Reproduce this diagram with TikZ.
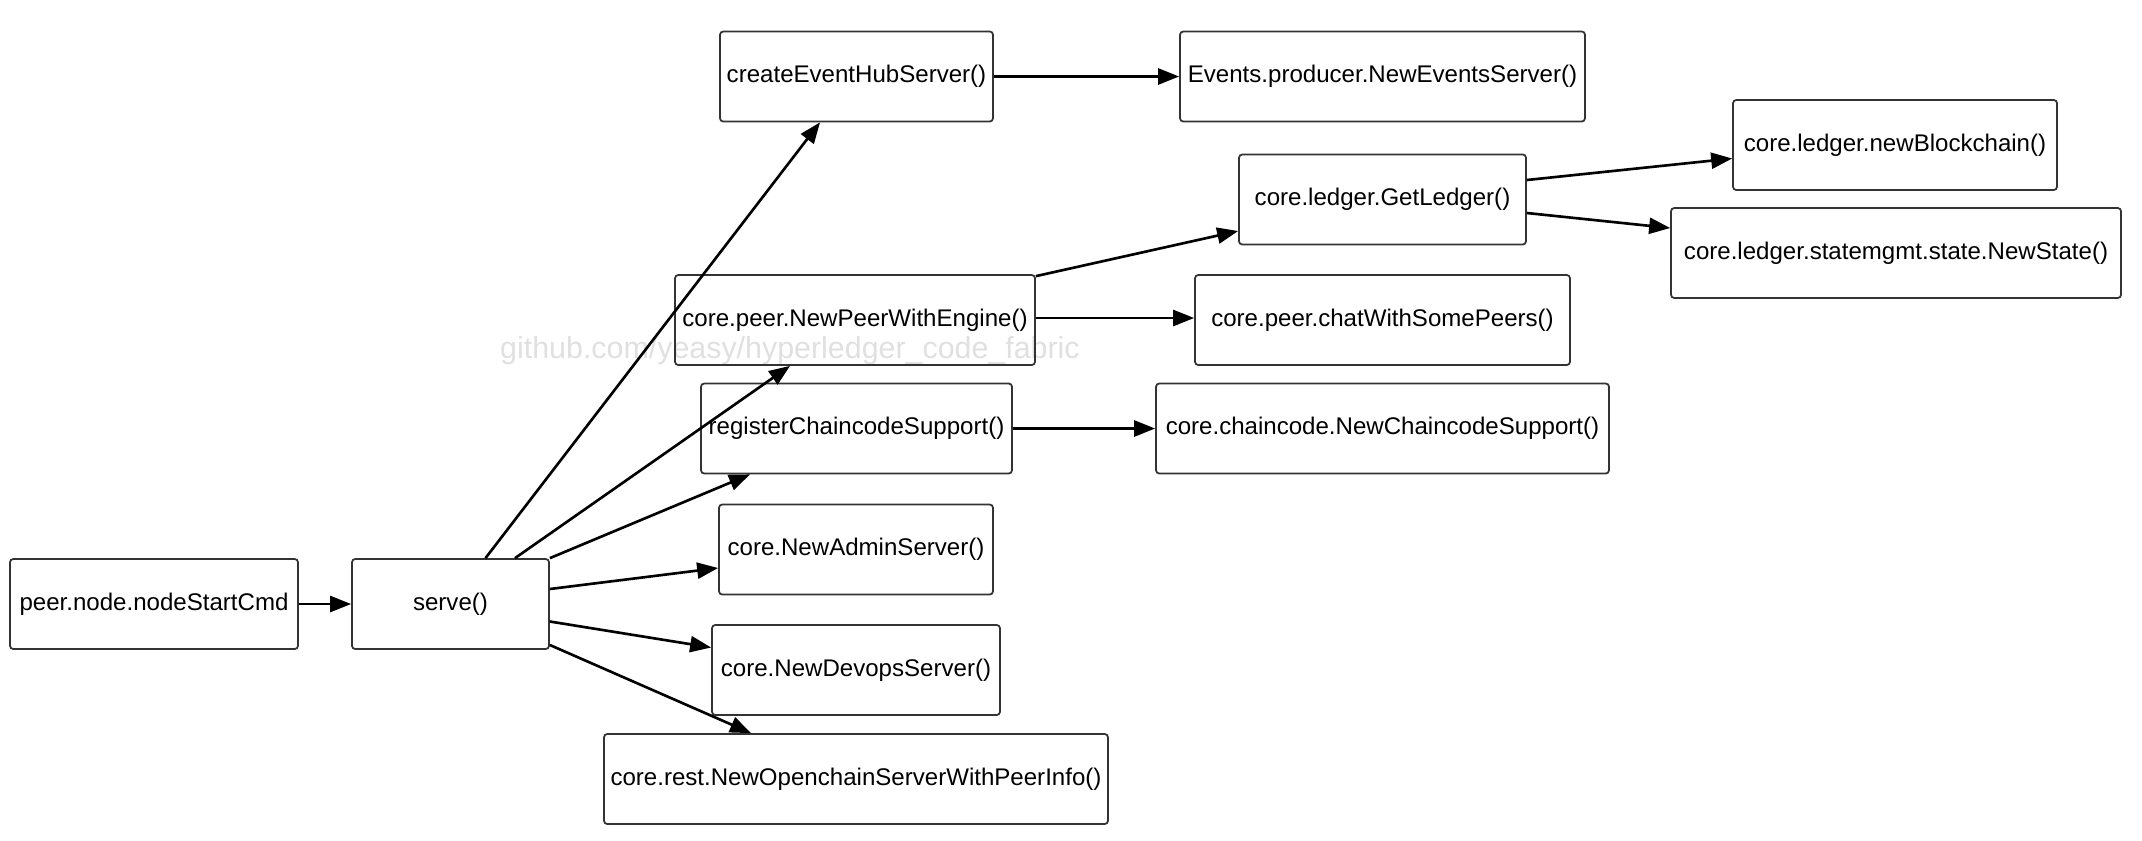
\documentclass[tikz,border=0pt]{standalone}
\usepackage{fontspec}
\setmainfont{Liberation Sans}
\usepackage{tikz}
\usetikzlibrary{arrows.meta}
\definecolor{fabLine}{HTML}{000000}
\definecolor{fabBorder}{HTML}{333333}
\definecolor{fabMark}{HTML}{E0E0E0}
\tikzset{
  fnbox/.style={draw=fabBorder, line width=1pt, rounded corners=1.8pt,
                minimum height=1.8cm, inner sep=2pt,
                font=\fontsize{13.7}{16}\selectfont},
  call/.style={-{Triangle[length=4.2mm, width=3.2mm]}, line width=1.5pt, draw=fabLine},
}

\begin{document}
\begin{tikzpicture}[x=0.02cm, y=-0.02cm]
\useasboundingbox (0,0) rectangle (2142,840);
% watermark, behind the rest
\node[anchor=base, font=\fontsize{17.3}{20}\selectfont, text=fabMark] (mark) at (790,358)
  {github.com/yeasy/hyperledger\_code\_fabric};

% call boxes
\node[fnbox, minimum width=5.76cm] (start)  at (154,604)    {peer.node.nodeStartCmd};
\node[fnbox, minimum width=3.94cm] (serve)  at (450.5,604)  {serve()};
\node[fnbox, minimum width=5.46cm] (hub)    at (856.5,76.5) {createEventHubServer()};
\node[fnbox, minimum width=8.10cm] (events) at (1382.5,76.5) {Events.producer.NewEventsServer()};
\node[fnbox, minimum width=7.20cm] (peer)   at (855,320)    {core.peer.NewPeerWithEngine()};
\node[fnbox, minimum width=5.74cm] (ledger) at (1382.5,199.5) {core.ledger.GetLedger()};
\node[fnbox, minimum width=6.48cm] (chain)  at (1895,145)   {core.ledger.newBlockchain()};
\node[fnbox, minimum width=9.00cm] (state)  at (1896,253)   {core.ledger.statemgmt.state.NewState()};
\node[fnbox, minimum width=7.50cm] (chat)   at (1382.5,320) {core.peer.chatWithSomePeers()};
\node[fnbox, minimum width=6.22cm] (regcc)  at (856.5,428.5) {registerChaincodeSupport()};
\node[fnbox, minimum width=9.06cm] (newcc)  at (1382.5,428.5) {core.chaincode.NewChaincodeSupport()};
\node[fnbox, minimum width=5.48cm] (admin)  at (856,549.5)  {core.NewAdminServer()};
\node[fnbox, minimum width=5.76cm] (devops) at (856,670)    {core.NewDevopsServer()};
\node[fnbox, minimum width=10.08cm] (rest)  at (856,779)    {core.rest.NewOpenchainServerWithPeerInfo()};

% calls
\draw[call] (start.east) -- (serve.west);
\draw[call] ([xshift=0.7cm]serve.north) -- ([xshift=-0.73cm]hub.south);
\draw[call] ([xshift=1.29cm]serve.north) -- ([xshift=-1.3cm]peer.south);
\draw[call] (serve.north east) -- ([xshift=-2.13cm]regcc.south);
\draw[call] ([yshift=0.3cm]serve.east) -- ([yshift=-0.37cm]admin.west);
\draw[call] ([yshift=-0.35cm]serve.east) -- ([yshift=0.45cm]devops.west);
\draw[call] ([yshift=-0.82cm]serve.east) -- ([xshift=-2.1cm]rest.north);
\draw[call] (hub.east) -- (events.west);
\draw[call] ([yshift=-0.04cm]peer.north east) -- ([yshift=-0.63cm]ledger.west);
\draw[call] ([yshift=0.04cm]peer.east) -- ([yshift=0.04cm]chat.west);
\draw[call] (regcc.east) -- (newcc.west);
\draw[call] ([yshift=0.39cm]ledger.east) -- ([yshift=-0.27cm]chain.west);
\draw[call] ([yshift=-0.27cm]ledger.east) -- ([yshift=0.5cm]state.west);
\end{tikzpicture}
\end{document}
